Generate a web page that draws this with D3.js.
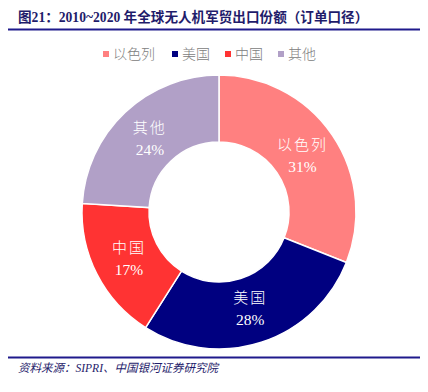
<!DOCTYPE html>
<html>
<head>
<meta charset="utf-8">
<script src="https://cdn.jsdelivr.net/npm/d3@7"></script>
<style>
  html, body { margin: 0; padding: 0; background: #fff; }
  svg { display: block; }
</style>
</head>
<body>
<script>
const width = 428;
const height = 392;

const categories = ['以色列', '美国', '中国', '其他'];
const shares = [31, 28, 17, 24];
const colours = ['#FF8080', '#000080', '#FF3333', '#B1A0C7'];

const cjk = '"Noto Sans CJK SC", "Liberation Serif", serif';

const svg = d3.select('body').append('svg')
    .attr('width', width)
    .attr('height', height);

// title
svg.append('text')
    .attr('x', 18)
    .attr('y', 22)
    .attr('fill', '#1F1C6B')
    .attr('font-family', '"Liberation Serif", ' + cjk)
    .attr('font-weight', 'bold')
    .attr('font-size', 13.6)
    .text('图21：2010~2020 年全球无人机军贸出口份额（订单口径）');

svg.append('line')
    .attr('x1', 8).attr('x2', 420)
    .attr('y1', 29.5).attr('y2', 29.5)
    .attr('stroke', '#1F1A8C')
    .attr('stroke-width', 2);

// legend
const legendX = [103, 172, 225, 278];
const legend = svg.append('g')
  .selectAll('g')
  .data(categories)
  .join('g')
    .attr('transform', (d, i) => `translate(${legendX[i]},54)`);

legend.append('rect')
    .attr('x', 0).attr('y', -3)
    .attr('width', 6).attr('height', 6)
    .attr('fill', (d, i) => colours[i]);

legend.append('text')
    .attr('x', 10)
    .attr('dy', '0.35em')
    .attr('fill', '#808080')
    .attr('font-family', cjk)
    .attr('font-weight', 300)
    .attr('font-size', 14)
    .text((d) => d);

// donut
const cx = 219;
const cy = 212;
const outer = 137;
const inner = 70;

const pie = d3.pie().sort(null).value((d) => d.value);
const arcs = pie(categories.map((c, i) => ({ name: c, value: shares[i], colour: colours[i] })));

const arc = d3.arc().innerRadius(inner).outerRadius(outer);
const labelArc = d3.arc().innerRadius(101).outerRadius(101);

const g = svg.append('g').attr('transform', `translate(${cx},${cy})`);

g.selectAll('path')
  .data(arcs)
  .join('path')
    .attr('d', arc)
    .attr('fill', (d) => d.data.colour)
    .attr('stroke', '#fff')
    .attr('stroke-width', 1.5);

const labels = g.selectAll('g.lbl')
  .data(arcs)
  .join('g')
    .attr('class', 'lbl')
    .attr('transform', (d) => `translate(${labelArc.centroid(d)})`);

labels.append('text')
    .attr('text-anchor', 'middle')
    .attr('y', -5)
    .attr('fill', '#fff')
    .attr('font-family', cjk)
    .attr('font-weight', 300)
    .attr('font-size', 15)
    .attr('letter-spacing', 2)
    .text((d) => d.data.name);

labels.append('text')
    .attr('text-anchor', 'middle')
    .attr('y', 17)
    .attr('fill', '#fff')
    .attr('font-family', '"Liberation Serif", serif')
    .attr('font-size', 15.5)
    .text((d) => d.data.value + '%');

// source
svg.append('line')
    .attr('x1', 8).attr('x2', 420)
    .attr('y1', 357.5).attr('y2', 357.5)
    .attr('stroke', '#1F1A8C')
    .attr('stroke-width', 2);

svg.append('text')
    .attr('x', 18)
    .attr('y', 372)
    .attr('fill', '#1F1C6B')
    .attr('font-family', '"Liberation Serif", ' + cjk)
    .attr('font-style', 'italic')
    .attr('font-size', 11.5)
    .text('资料来源：SIPRI、中国银河证券研究院');
</script>
</body>
</html>
